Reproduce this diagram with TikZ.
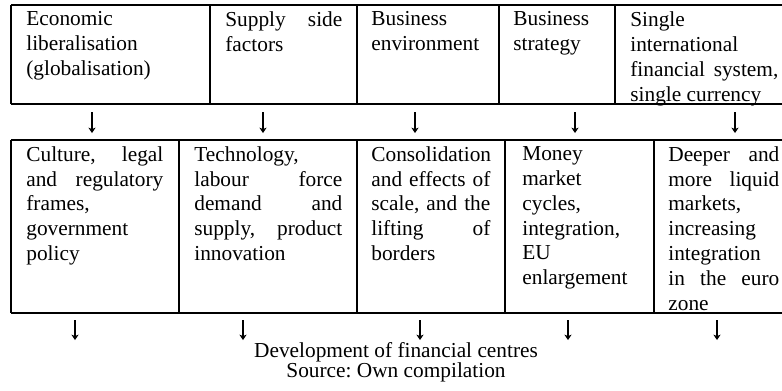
\documentclass[tikz,border=0pt]{standalone}
\usepackage{fontspec}
\setmainfont{Liberation Serif}
\usetikzlibrary{positioning,arrows.meta}
\setlength{\parindent}{0pt}
\tolerance=10000
\hyphenpenalty=10000
\frenchspacing

\begin{document}
\begin{tikzpicture}[x=0.5625pt, y=-0.5625pt,
  txt/.style={font=\fontsize{12}{14}\selectfont},
  cellbox/.style={txt, anchor=north west, inner sep=0pt, align=justify, text width=#1*0.5625pt},
  dnarrow/.style={line width=0.6pt, -{Stealth[length=3pt,width=4pt,inset=0.8pt]}},
  rule/.style={line width=1pt}]
\useasboundingbox (0,0) rectangle (782,390);
% upper row of the table
\draw[rule] (11,5) -- (782,5) (11,104) -- (782,104);
\foreach \x in {11,210,357,499,615} \draw[rule] (\x,5) -- (\x,104);
% lower row of the table
\draw[rule] (11,140) -- (782,140) (11,313) -- (782,313);
\foreach \x in {11,179,357,505,654} \draw[rule] (\x,140) -- (\x,313);

\node[cellbox=169] (econ) at (26,11.5) {Economic\linebreak liberalisation\linebreak (globalisation)};
\node[cellbox=117] (supply) at (225,11.5) {Supply side\linebreak factors};
\node[cellbox=114] (benv) at (371,11.5) {Business\linebreak environment};
\node[cellbox=87] (bstrat) at (513,11.5) {Business\linebreak strategy};
\node[cellbox=148] (single) at (630,11.5) {Single\linebreak international\linebreak financial system,\linebreak single currency};

\node[cellbox=137] (culture) at (26,146) {Culture, legal\linebreak and regulatory\linebreak frames,\linebreak government\linebreak policy};
\node[cellbox=148] (tech) at (194,146) {Technology,\linebreak labour force\linebreak demand and\linebreak supply, product\linebreak innovation};
\node[cellbox=119] (consol) at (371,146) {Consolidation\linebreak and effects of\linebreak scale, and the\linebreak lifting of\linebreak borders};
\node[cellbox=117] (money) at (522,146) {Money\linebreak market\linebreak cycles,\linebreak integration,\linebreak EU\linebreak enlargement};
\node[cellbox=111] (deeper) at (668,146) {Deeper and\linebreak more liquid\linebreak markets,\linebreak increasing\linebreak integration\linebreak in the euro\linebreak zone};

% arrows between the rows
\foreach \x [count=\i] in {92,263,415,575,735} {
  \coordinate (a\i top) at (\x,112);
  \coordinate (a\i tip) at (\x,133);
  \draw[dnarrow] (a\i top) -- (a\i tip);
}
\foreach \x [count=\i] in {75,243,420,568,717} {
  \coordinate (b\i top) at (\x,320);
  \coordinate (b\i tip) at (\x,340);
  \draw[dnarrow] (b\i top) -- (b\i tip);
}

\node[txt, anchor=base, inner sep=0pt] (dev) at (396,357) {Development of financial centres};
\node[txt, anchor=base, inner sep=0pt] (src) at (396,377) {Source: Own compilation};
\end{tikzpicture}
\end{document}
